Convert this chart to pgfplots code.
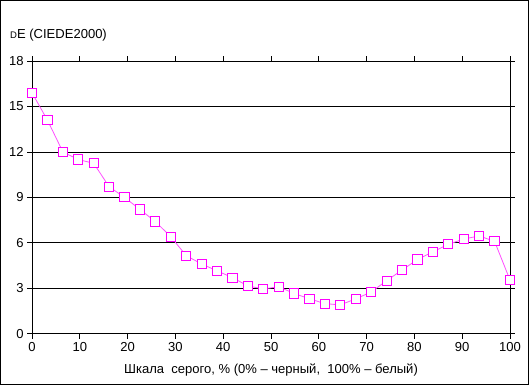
\documentclass[border=0pt]{standalone}
\usepackage{fontspec}
\setmainfont{Liberation Sans}
\usepackage{pgfplots}
\pgfplotsset{compat=1.18}
\definecolor{mag}{RGB}{255,0,255}
\definecolor{magline}{RGB}{255,80,255}
\begin{document}
\begin{tikzpicture}
\begin{axis}[
  at={(0,0)}, anchor=south west,
  scale only axis, width=477pt, height=272pt,
  xmin=0, xmax=100, ymin=0, ymax=18,
  xtick={0,10,...,100}, ytick={0,3,...,18},
  tick align=outside, tick style={black, line width=0.8pt}, major tick length=5pt,
  axis line style={black, line width=0.8pt},
  ymajorgrids, grid style={black, line width=0.8pt},
  /pgf/number format/assume math mode=true,
  ticklabel style={font=\fontsize{13}{15}\selectfont},
  xlabel={Шкала\ \ серого, \% (0\% – черный,\ \ 100\% – белый)},
  xlabel style={font=\fontsize{13}{15}\selectfont, yshift=-6pt},
  clip=false,
]
\addplot[color=magline, line width=0.8pt, mark=square*,
  mark options={fill=white, draw=mag, line width=1pt}, mark size=4.6pt]
coordinates {
(0,15.9) (3.226,14.1) (6.452,12.0) (9.677,11.5) (12.903,11.25) (16.129,9.7)
(19.355,9.0) (22.581,8.2) (25.806,7.4) (29.032,6.4) (32.258,5.15) (35.484,4.6)
(38.710,4.15) (41.935,3.7) (45.161,3.15) (48.387,2.95) (51.613,3.1) (54.839,2.65)
(58.065,2.3) (61.290,1.98) (64.516,1.9) (67.742,2.3) (70.968,2.75) (74.194,3.5)
(77.419,4.2) (80.645,4.9) (83.871,5.4) (87.097,5.9) (90.323,6.25) (93.548,6.45)
(96.774,6.1) (100,3.55)
};
\end{axis}
\node[anchor=base west, font=\fontsize{13}{15}\selectfont, inner sep=0pt] at (-22pt,295pt) {{\fontsize{9.5}{10}\selectfont D}E (CIEDE2000)};
\draw[black, line width=1pt] (-31.5pt,-50.5pt) rectangle (495.5pt,332.5pt);
\end{tikzpicture}
\end{document}
